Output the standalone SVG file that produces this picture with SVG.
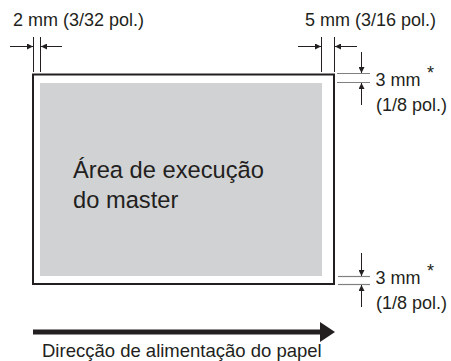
<svg xmlns="http://www.w3.org/2000/svg" width="451" height="361" viewBox="0 0 451 361">
<style>
text{font-family:"Liberation Sans",Arial,sans-serif;fill:#231f20}
.lbl{font-size:18px}
.main{font-size:23.7px}
.ext{stroke:#231f20;stroke-width:1;fill:none}
.extg{stroke:#808080;stroke-width:1.2;fill:none}
.dim{stroke:#231f20;stroke-width:1;fill:none}
</style>
<defs>
<marker id="ah" viewBox="0 0 10 10" refX="10" refY="5" markerWidth="8" markerHeight="6" markerUnits="userSpaceOnUse" orient="auto">
<path d="M0,0 L10,5 L0,10 z" fill="#231f20"/>
</marker>
</defs>
<rect width="451" height="361" fill="#fff"/>
<g id="sheet">
<rect x="33" y="74.5" width="301" height="209.5" fill="#fff" stroke="#231f20" stroke-width="2"/>
</g>
<g id="print-area">
<rect x="40" y="83" width="282" height="193" fill="#d1d2d4"/>
<text class="main" x="73" y="178">Área de execução</text>
<text class="main" x="73" y="208">do master</text>
</g>
<g id="connectors">
<line class="ext" x1="33.5" y1="37" x2="33.5" y2="72"/>
<line class="ext" x1="40.5" y1="37" x2="40.5" y2="72"/>
<line class="dim" x1="10" y1="46.5" x2="33" y2="46.5" marker-end="url(#ah)"/>
<line class="dim" x1="62" y1="46.5" x2="41" y2="46.5" marker-end="url(#ah)"/>
<line class="ext" x1="321.5" y1="37" x2="321.5" y2="72"/>
<line class="ext" x1="334.5" y1="37" x2="334.5" y2="72"/>
<line class="dim" x1="298" y1="46.5" x2="321" y2="46.5" marker-end="url(#ah)"/>
<line class="dim" x1="357" y1="46.5" x2="335" y2="46.5" marker-end="url(#ah)"/>
<line class="extg" x1="337" y1="73.5" x2="370" y2="73.5"/>
<line class="extg" x1="337" y1="82.5" x2="370" y2="82.5"/>
<line class="dim" x1="361.5" y1="52" x2="361.5" y2="73" marker-end="url(#ah)"/>
<line class="dim" x1="361.5" y1="105" x2="361.5" y2="83" marker-end="url(#ah)"/>
<line class="extg" x1="338" y1="276.5" x2="370" y2="276.5"/>
<line class="extg" x1="338" y1="284.5" x2="370" y2="284.5"/>
<line class="dim" x1="361.5" y1="253" x2="361.5" y2="276" marker-end="url(#ah)"/>
<line class="dim" x1="361.5" y1="307" x2="361.5" y2="285" marker-end="url(#ah)"/>
<line x1="33" y1="332" x2="321" y2="332" stroke="#231f20" stroke-width="5"/>
<path d="M320,322 L335,332 L320,342 z" fill="#231f20"/>
</g>
<g id="labels">
<text class="lbl" x="13" y="26">2 mm (3/32 pol.)</text>
<text class="lbl" x="305" y="26">5 mm (3/16 pol.)</text>
<text class="lbl" x="375.5" y="85.5">3 mm</text>
<text class="lbl" x="427" y="79">*</text>
<text class="lbl" x="376" y="110.5">(1/8 pol.)</text>
<text class="lbl" x="375.5" y="283.5">3 mm</text>
<text class="lbl" x="427" y="277">*</text>
<text class="lbl" x="376" y="308.5">(1/8 pol.)</text>
<text class="lbl" x="42" y="356.5" style="font-size:18.5px">Direcção de alimentação do papel</text>
</g>
</svg>
